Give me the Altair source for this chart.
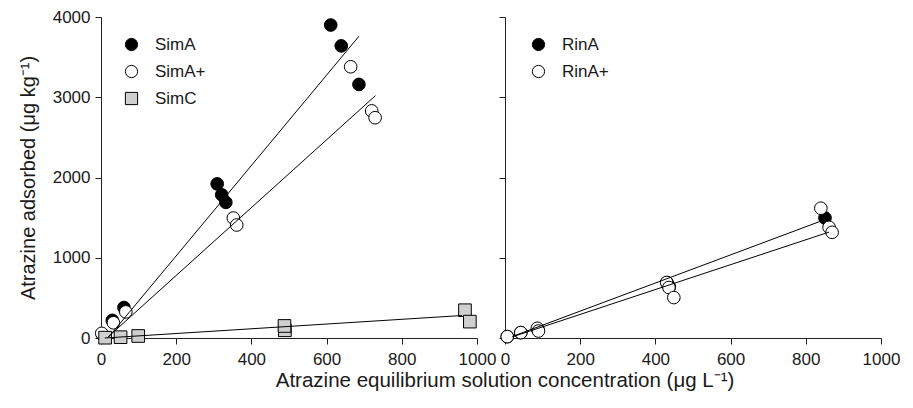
import altair as alt
import pandas as pd

FONT = "Liberation Sans"

# ---- Left panel data (Sim soils) ----
simA_x = [5, 30, 61, 309, 321, 332, 611, 639, 686]
simA_y = [40, 220, 380, 1920, 1785, 1690, 3900, 3640, 3160]
simAp_x = [2, 33, 66, 352, 361, 664, 720, 729]
simAp_y = [58, 190, 325, 1495, 1408, 3380, 2830, 2745]
simC_x = [11, 52, 99, 489, 488, 968, 981]
simC_y = [4, 10, 25, 96, 150, 346, 204]

simA_fit_x = [20, 686]
simA_fit_y = [10, 3760]
simAp_fit_x = [18, 730]
simAp_fit_y = [10, 3020]
simC_fit_x = [10, 960]
simC_fit_y = [0, 280]

# ---- Right panel data (Rin soils) ----
rinA_x = [6, 42, 88, 431, 437, 851]
rinA_y = [17, 67, 105, 690, 640, 1496]
rinAp_x = [6, 42, 86, 89, 430, 436, 449, 840, 862, 870]
rinAp_y = [17, 67, 121, 87, 692, 629, 504, 1617, 1379, 1317]

rinA_fit_x = [20, 845]
rinA_fit_y = [20, 1465]
rinAp_fit_x = [20, 862]
rinAp_fit_y = [15, 1320]

left_series = ["SimA", "SimA+", "SimC"]
right_series = ["RinA", "RinA+"]

x_ticks = [0, 200, 400, 600, 800, 1000]
y_ticks = [0, 1000, 2000, 3000, 4000]


def pts(name, xs, ys):
    return pd.DataFrame({"series": name, "x": xs, "y": ys})


left_pts = pd.concat([pts("SimA", simA_x, simA_y),
                      pts("SimA+", simAp_x, simAp_y),
                      pts("SimC", simC_x, simC_y)], ignore_index=True)
left_pts["order"] = range(len(left_pts))
left_fit = pd.concat([pts("SimA", simA_fit_x, simA_fit_y),
                      pts("SimA+", simAp_fit_x, simAp_fit_y),
                      pts("SimC", simC_fit_x, simC_fit_y)], ignore_index=True)
right_pts = pd.concat([pts("RinA", rinA_x, rinA_y),
                       pts("RinA+", rinAp_x, rinAp_y)], ignore_index=True)
right_pts["order"] = range(len(right_pts))
right_fit = pd.concat([pts("RinA", rinA_fit_x, rinA_fit_y),
                       pts("RinA+", rinAp_fit_x, rinAp_fit_y)], ignore_index=True)

W, H = 376, 321


def panel(points, fits, series, fills, shapes, show_y_labels, lx, ly):
    xenc = alt.X("x:Q", scale=alt.Scale(domain=[0, 1000], nice=False),
                 axis=alt.Axis(values=x_ticks, title=None, format="d",
                               labelFlush=False, labelPadding=7))
    if show_y_labels:
        yaxis = alt.Axis(values=y_ticks, title="Atrazine adsorbed (μg kg⁻¹)", format="d")
    else:
        yaxis = alt.Axis(values=y_ticks, title=None, labels=False)
    yenc = alt.Y("y:Q", scale=alt.Scale(domain=[0, 4000], nice=False), axis=yaxis)
    legend = alt.Legend(title=None, orient="none", legendX=lx, legendY=ly,
                        labelFontSize=17, labelFont=FONT, labelColor="#1a1a1a",
                        symbolSize=150, symbolStrokeWidth=1,
                        rowPadding=9, labelOffset=15)
    p = alt.Chart(points).mark_point(filled=True, strokeWidth=1,
                                     opacity=1, size=160).encode(
        x=xenc, y=yenc,
        fill=alt.Fill("series:N", scale=alt.Scale(domain=series, range=fills), legend=legend),
        shape=alt.Shape("series:N", scale=alt.Scale(domain=series, range=shapes), legend=legend),
        stroke=alt.Stroke("series:N", scale=alt.Scale(domain=series, range=["black"] * len(series)),
                          legend=legend),
        order=alt.Order("order:Q"),
    )
    l = alt.Chart(fits).mark_line(color="black", strokeWidth=1).encode(
        x="x:Q", y="y:Q", detail="series:N")
    return alt.layer(p, l).properties(width=W, height=H)


left = panel(left_pts, left_fit, left_series, ["black", "white", "#cfcfcf"],
             ["circle", "circle", "square"], True, 22, 19)
right = panel(right_pts, right_fit, right_series, ["black", "white"],
              ["circle", "circle"], False, 25, 19)

chart = alt.hconcat(left, right, spacing=28, bounds="flush").resolve_scale(
    fill="independent", shape="independent", stroke="independent",
    x="independent", y="independent"
).resolve_legend(fill="independent", shape="independent", stroke="independent").properties(
    padding={"left": 10, "top": 0, "right": 5, "bottom": 5},
    title=alt.TitleParams("Atrazine equilibrium solution concentration (μg L⁻¹)",
                          orient="bottom", fontSize=20.5, fontWeight="normal",
                          font=FONT, color="#1a1a1a", anchor="middle", offset=4, dx=46),
).configure_view(strokeWidth=0).configure_axis(
    grid=False, domainColor="#222", tickColor="#222", labelColor="#1a1a1a",
    labelFont=FONT, labelFontSize=17, titleFont=FONT, titleFontSize=20,
    titleFontWeight="normal", titleColor="#1a1a1a", tickSize=6, labelPadding=5,
    titlePadding=14,
)

chart.save("out.html", embed_options={"renderer": "svg", "actions": False})
